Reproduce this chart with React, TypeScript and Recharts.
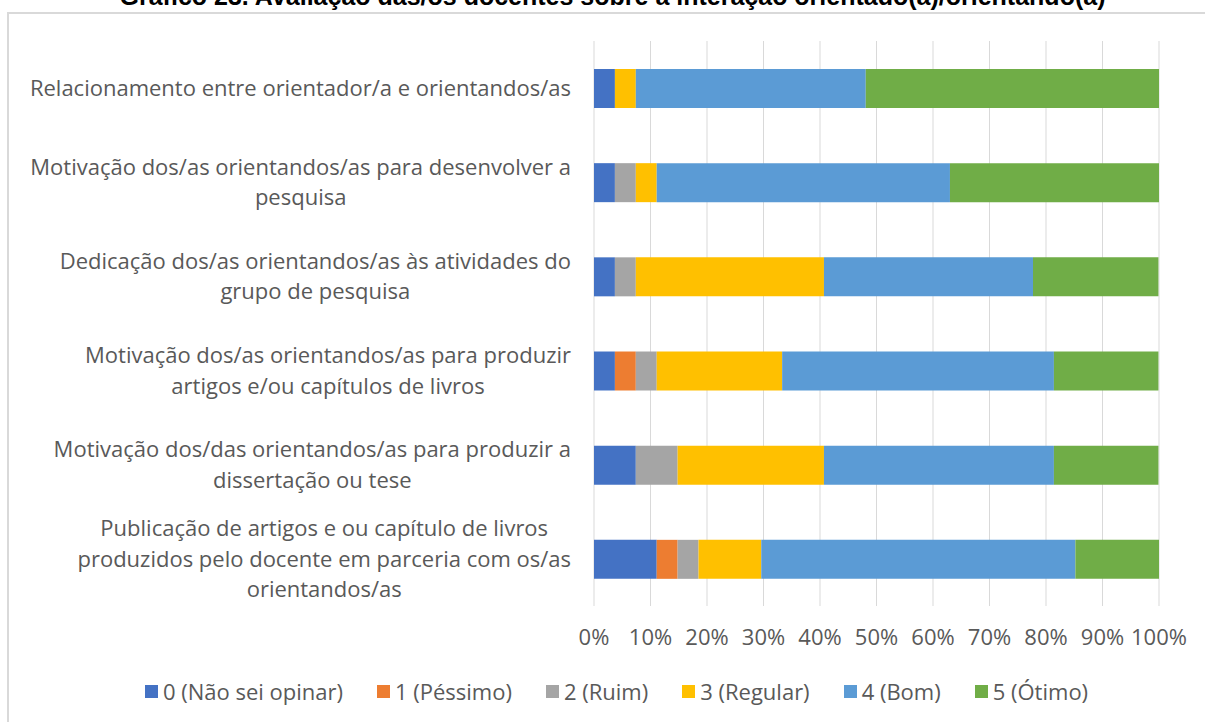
import { BarChart, Bar, XAxis, YAxis, CartesianGrid, Legend } from 'recharts'

const categories = [
  ['Relacionamento entre orientador/a e orientandos/as'],
  ['Motivação dos/as orientandos/as para desenvolver a', 'pesquisa'],
  ['Dedicação dos/as orientandos/as às atividades do', 'grupo de pesquisa'],
  ['Motivação dos/as orientandos/as para produzir', 'artigos e/ou capítulos de livros'],
  ['Motivação dos/das orientandos/as para produzir a', 'dissertação ou tese'],
  ['Publicação de artigos e ou capítulo de livros', 'produzidos pelo docente em parceria com os/as', 'orientandos/as'],
]

const naoSei = [3.7, 3.7, 3.7, 3.7, 7.4, 11.1]
const pessimo = [0, 0, 0, 3.7, 0, 3.7]
const ruim = [0, 3.7, 3.7, 3.7, 7.4, 3.7]
const regular = [3.7, 3.7, 33.3, 22.2, 25.9, 11.1]
const bom = [40.7, 51.9, 37.0, 48.1, 40.7, 55.6]
const otimo = [51.9, 37.0, 22.2, 18.5, 18.5, 14.8]

const xTicks = [0, 10, 20, 30, 40, 50, 60, 70, 80, 90, 100]

const series = [
  { key: 'naoSei', name: '0 (Não sei opinar)', color: '#4472C4', values: naoSei },
  { key: 'pessimo', name: '1 (Péssimo)', color: '#ED7D31', values: pessimo },
  { key: 'ruim', name: '2 (Ruim)', color: '#A5A5A5', values: ruim },
  { key: 'regular', name: '3 (Regular)', color: '#FFC000', values: regular },
  { key: 'bom', name: '4 (Bom)', color: '#5B9BD5', values: bom },
  { key: 'otimo', name: '5 (Ótimo)', color: '#70AD47', values: otimo },
]

const data = categories.map((lines, i) => {
  const row: Record<string, string | number> = { label: lines.join('\n') }
  series.forEach((s) => {
    row[s.key] = s.values[i]
  })
  return row
})

const FONT = '"Open Sans", sans-serif'
const TEXT = '#595959'
const LINE_H = 30.5

let ctx: CanvasRenderingContext2D | null = null
function measure(t: string) {
  if (!ctx) ctx = document.createElement('canvas').getContext('2d')
  if (!ctx) return t.length * 11
  ctx.font = `22px "Open Sans"`
  return ctx.measureText(t).width
}

// rótulos centrados em bloco, alinhados à direita do eixo
const CategoryTick = ({ x, y, payload }: { x?: number; y?: number; payload?: { value: string } }) => {
  const lines = String(payload?.value ?? '').split('\n')
  const widest = Math.max(...lines.map(measure))
  const right = (x ?? 0) - 15
  const cx = right - widest / 2
  const top = (y ?? 0) - ((lines.length - 1) * LINE_H) / 2
  return (
    <text x={cx} y={top} textAnchor="middle" fill={TEXT} fontSize={22} fontFamily={FONT}>
      {lines.map((l, i) => (
        <tspan key={i} x={cx} y={top + i * LINE_H} dy="0.35em">
          {l}
        </tspan>
      ))}
    </text>
  )
}

const LegendContent = () => (
  <div style={{ display: 'flex', justifyContent: 'center', gap: 34, fontFamily: FONT, fontSize: 22, color: TEXT }}>
    {series.map((s) => (
      <div key={s.key} style={{ display: 'flex', alignItems: 'center' }}>
        <span style={{ width: 13, height: 13, background: s.color, display: 'inline-block', marginRight: 5 }} />
        <span>{s.name}</span>
      </div>
    ))}
  </div>
)

export default function App() {
  return (
    <div style={{ position: 'absolute', left: 0, top: 0, width: 1205, height: 722, overflow: 'hidden', background: '#fff' }}>
      <div
        style={{
          position: 'absolute',
          left: 7,
          top: 12,
          width: 1300,
          height: 800,
          borderLeft: '2px solid #d9d9d9',
          borderTop: '2px solid #d9d9d9',
        }}
      />
      <div
        style={{
          position: 'absolute',
          top: -16,
          left: 0,
          width: 1225,
          textAlign: 'center',
          fontFamily: '"Liberation Sans", Arial, sans-serif',
          fontWeight: 'bold',
          fontSize: 25,
          lineHeight: '25px',
          color: '#000',
          whiteSpace: 'nowrap',
        }}
      >
        Gráfico 23. Avaliação das/os docentes sobre a interação orientado(a)/orientando(a)
      </div>
      <div style={{ position: 'absolute', left: 0, top: 0 }}>
        <BarChart
          width={1205}
          height={722}
          data={data}
          layout="vertical"
          margin={{ top: 41, right: 46, bottom: 86, left: 0 }}
          barSize={39}
        >
          <CartesianGrid horizontal={false} stroke="#d9d9d9" />
          <XAxis
            type="number"
            domain={[0, 100]}
            ticks={xTicks}
            allowDataOverflow
            axisLine={false}
            tickLine={false}
            height={30}
            tickMargin={17}
            interval={0}
            tickFormatter={(v) => `${v}%`}
            tick={{ fill: TEXT, fontSize: 22, fontFamily: FONT }}
          />
          <YAxis
            type="category"
            dataKey="label"
            width={594}
            axisLine={false}
            tickLine={false}
            interval={0}
            tick={<CategoryTick />}
          />
          <Legend
            layout="horizontal"
            verticalAlign="middle"
            align="center"
            wrapperStyle={{ top: 676, left: 14, width: 1205 }}
            content={<LegendContent />}
          />
          {series.map((s) => (
            <Bar key={s.key} dataKey={s.key} name={s.name} stackId="a" fill={s.color} isAnimationActive={false} />
          ))}
        </BarChart>
      </div>
    </div>
  )
}
